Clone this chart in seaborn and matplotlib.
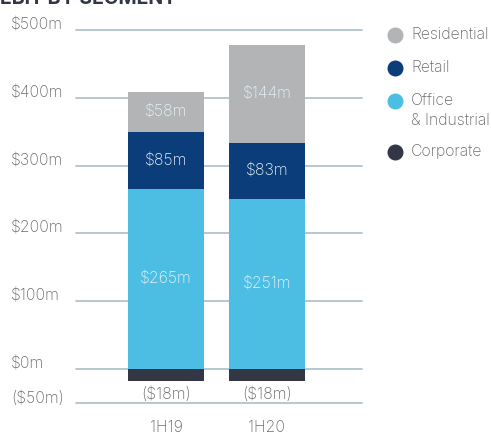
import matplotlib
matplotlib.use("Agg")
import matplotlib.pyplot as plt
import seaborn as sns
import pandas as pd

# EBIT by segment, half-year periods ($m)
periods = ["1H19", "1H20"]
office_industrial = [265, 251]
retail = [85, 83]
residential = [58, 144]
corporate = [-18, -18]

segments = ["Residential", "Retail", "Office\n& Industrial", "Corporate"]
colors = {
    "Residential": "#b2b4b5",
    "Retail": "#0c3d7b",
    "Office\n& Industrial": "#4dbee3",
    "Corporate": "#333644",
}
y_ticks = [-50, 0, 100, 200, 300, 400, 500]
y_tick_labels = ["($50m)", "$0m", "$100m", "$200m", "$300m", "$400m", "$500m"]

TEXT = "#6b6c6e"
GRID = "#aabdca"
INNER = "#e4f1f7"
FONT = ["Inter", "DejaVu Sans"]
W = "light"
FS = 11.4

sns.set_theme(style="white")
plt.rcParams["font.family"] = FONT

df = pd.DataFrame({
    "period": periods,
    "office": office_industrial,
    "retail": retail,
    "residential": residential,
    "corporate": corporate,
})
df["lvl1"] = df["office"]
df["lvl2"] = df["office"] + df["retail"]
df["lvl3"] = df["lvl2"] + df["residential"]

fig = plt.figure(figsize=(4.91, 4.34), dpi=100)
ax = fig.add_axes([76 / 491, 1 - 403 / 434, 286 / 491, 373 / 434])

bw = 0.752
# stacked segments drawn from the tallest cumulative level down
for col, seg in [("lvl3", "Residential"), ("lvl2", "Retail"),
                 ("lvl1", "Office\n& Industrial"), ("corporate", "Corporate")]:
    sns.barplot(data=df, x="period", y=col, color=colors[seg], width=bw,
                saturation=1, ax=ax, zorder=3, linewidth=0)

# gridlines
for t in y_ticks:
    ax.axhline(t, color=GRID, lw=1.2, zorder=1, clip_on=False)

ax.set_xlim(-0.891, 1.941)
ax.set_ylim(-50, 500)
ax.axis("off")

# value labels inside the segments
for i in range(len(periods)):
    o, r, s, c = office_industrial[i], retail[i], residential[i], corporate[i]
    for val, lo in [(o, 0), (r, o), (s, o + r)]:
        ax.text(i, lo + val / 2, f"${val}m", ha="center", va="center",
                color=INNER, fontsize=FS, fontweight=W, zorder=4)
    ax.text(i, c - 7, f"(${-c}m)", ha="center", va="top", color=TEXT,
            fontsize=FS, fontweight=W, zorder=4)
    ax.text(i, -75, periods[i], ha="center", va="top", color=TEXT,
            fontsize=FS, fontweight=W, clip_on=False)

# y tick labels, sitting just above each gridline
to_fig = fig.transFigure.inverted()
for t, lab in zip(y_ticks, y_tick_labels):
    ypix = to_fig.transform(ax.transData.transform((0, t)))[1]
    fig.text(11 / 491, ypix + 5 / 434, lab, ha="left", va="center",
             color=TEXT, fontsize=FS, fontweight=W)

# legend: dot + label, multi-line labels hang from their first line
legend_rows = [35, 68, 101, 152]
for seg, yp in zip(segments, legend_rows):
    fy = 1 - yp / 434
    fig.add_artist(plt.Line2D([395 / 491], [fy], marker="o", markersize=10.5,
                              color=colors[seg], linestyle="",
                              transform=fig.transFigure))
    fig.text(411 / 491, fy + 8 / 434, seg, ha="left", va="top", color=TEXT,
             fontsize=FS, fontweight=W, linespacing=1.4)

# chart heading (top edge of the canvas)
fig.text(0, 1 - 4 / 434, "EBIT BY SEGMENT", ha="left", va="baseline",
         color="#333644", fontsize=14, fontweight="bold")

fig.savefig("out.png", dpi=100)
